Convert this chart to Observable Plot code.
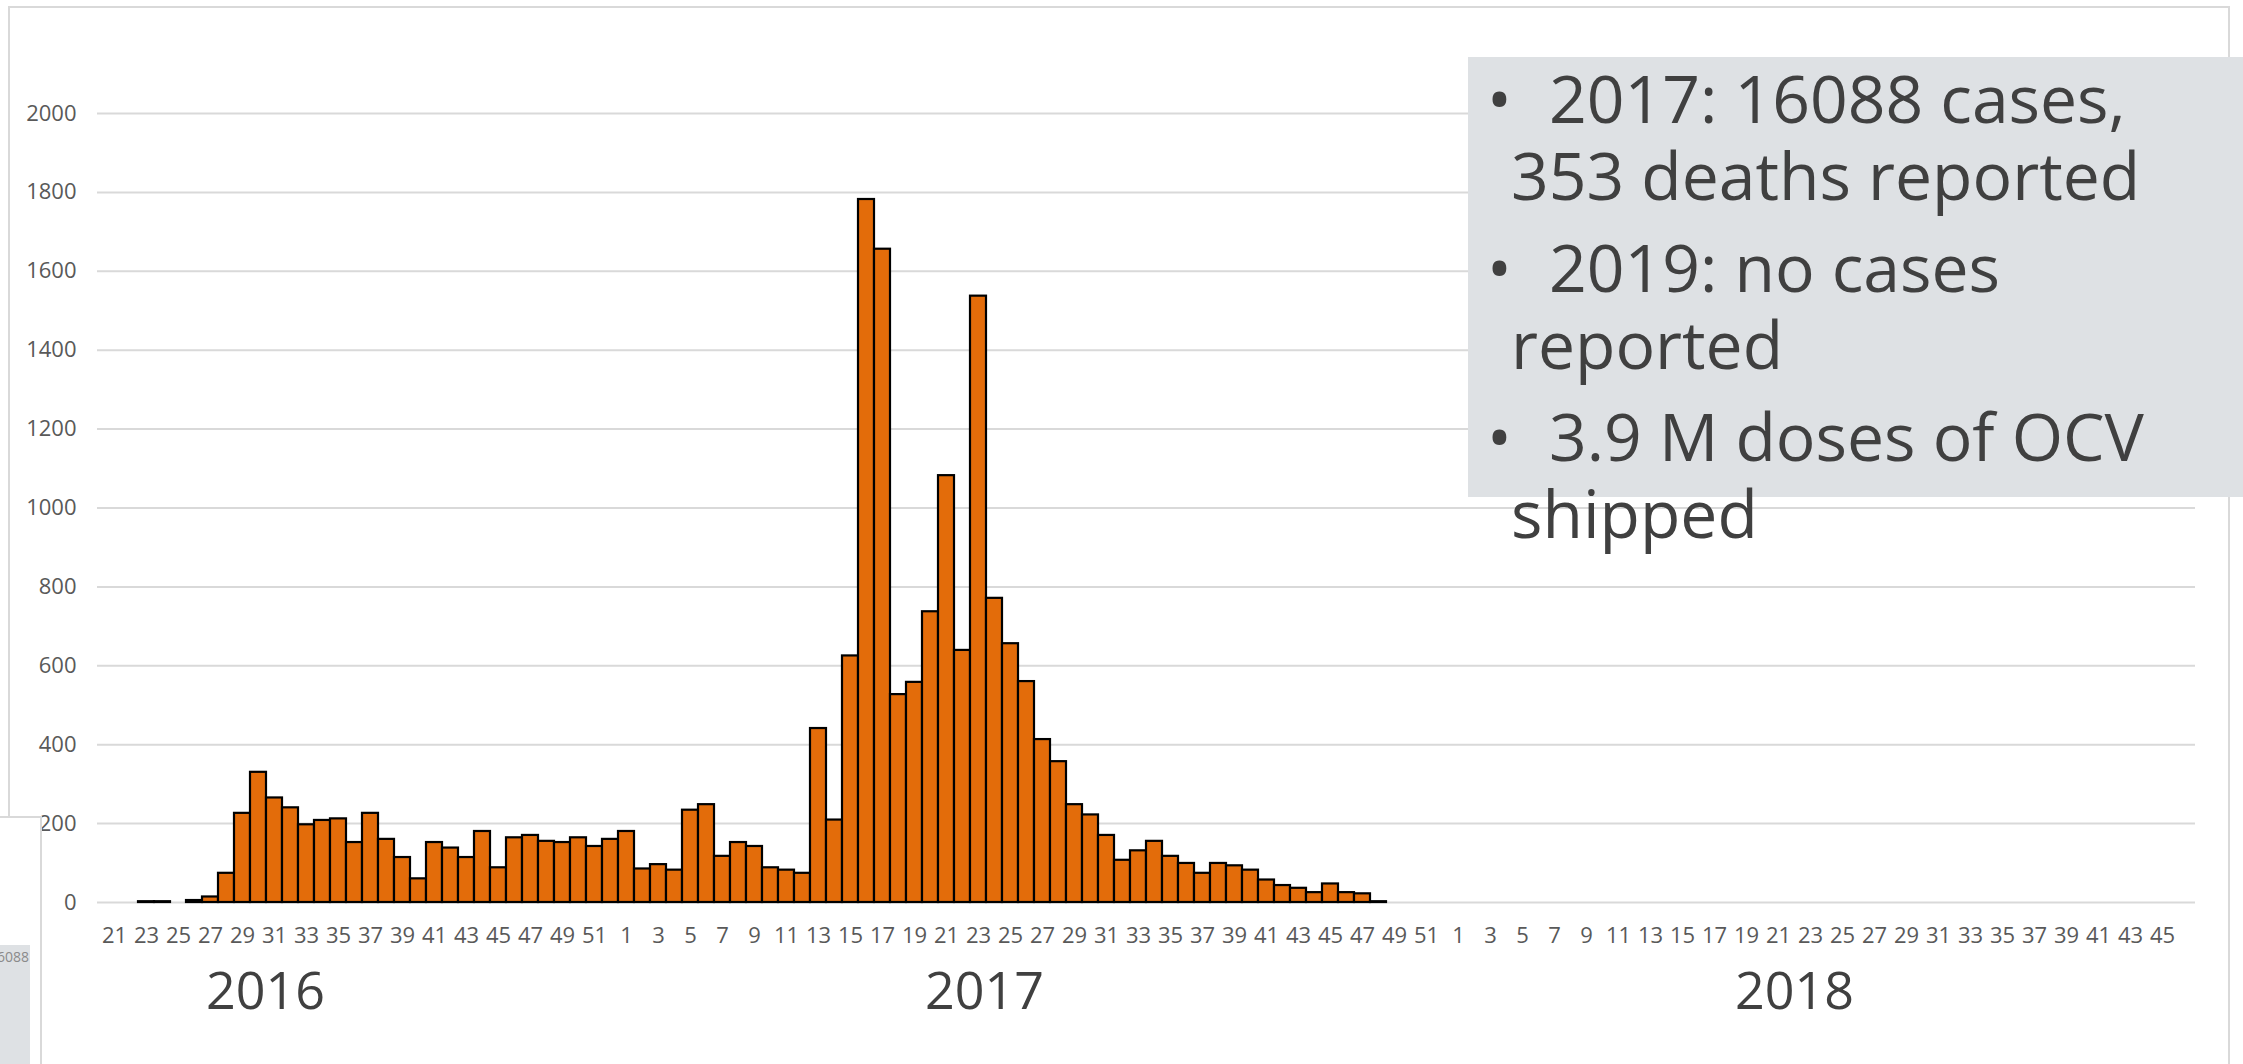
<!DOCTYPE html>
<html>
<head>
<meta charset="utf-8">
<script src="https://cdn.jsdelivr.net/npm/d3@7"></script>
<script src="https://cdn.jsdelivr.net/npm/@observablehq/plot@0.6"></script>
<style>
  html, body { margin: 0; padding: 0; background: #fff; }
  #wrap { position: relative; width: 2243px; height: 1064px; overflow: hidden; font-family: "Open Sans", sans-serif; }
  #chart { position: absolute; left: 0; top: 0; }
  .frame { position: absolute; left: 8px; top: 6px; width: 2222px; height: 1120px; border: 2px solid #d9d9d9; box-sizing: border-box; }
  .box { position: absolute; left: 1468px; top: 57px; width: 800px; height: 440px; background: #dee1e4; }
  .notes { position: absolute; left: 1511px; top: 59px; font-size: 66px; color: #404040; white-space: nowrap; line-height: 77px; }
  .notes p { margin: 0 0 15px 0; text-indent: -24px; }
  .notes .b { display: inline-block; width: 62px; text-indent: 0; }
  .inset { position: absolute; left: -2px; top: 816px; width: 44px; height: 300px; background: #fff; border: 2px solid #d9d9d9; box-sizing: border-box; }
  .inset .thumb { position: absolute; left: 0; top: 127px; width: 30px; height: 200px; background: #dee1e4; overflow: hidden; }
  .inset .thumb span { position: absolute; right: 1px; top: 2px; font-size: 14px; color: #8a8a8a; white-space: nowrap; }
</style>
</head>
<body>
<div id="wrap">
  <div class="frame"></div>
  <div id="chart"></div>
  <div class="inset"><div class="thumb"><span>16088</span></div></div>
  <div class="box"></div>
  <div class="notes">
    <p><span class="b">•</span>2017: 16088 cases,<br>353 deaths reported</p>
    <p><span class="b">•</span>2019: no cases<br>reported</p>
    <p><span class="b">•</span>3.9 M doses of OCV<br>shipped</p>
  </div>
</div>
<script>
// Epidemiological weeks shown on the axis
const weeks2016 = [21,22,23,24,25,26,27,28,29,30,31,32,33,34,35,36,37,38,39,40,41,42,43,44,45,46,47,48,49,50,51,52];
const weeks2017 = [1,2,3,4,5,6,7,8,9,10,11,12,13,14,15,16,17,18,19,20,21,22,23,24,25,26,27,28,29,30,31,32,33,34,35,36,37,38,39,40,41,42,43,44,45,46,47,48,49,50,51,52];
const weeks2018 = [1,2,3,4,5,6,7,8,9,10,11,12,13,14,15,16,17,18,19,20,21,22,23,24,25,26,27,28,29,30,31,32,33,34,35,36,37,38,39,40,41,42,43,44,45,46];

// Weekly cases
const cases2016 = [0,0,2,2,0,5,14,74,226,330,265,240,197,208,212,152,226,160,114,60,152,138,114,180,88,164,170,155,152,164,142,160];
const cases2017 = [180,85,96,82,234,248,117,152,142,88,82,74,441,209,625,1782,1656,527,558,737,1082,639,1537,771,656,560,413,357,248,222,170,107,131,155,117,99,74,99,93,82,57,43,36,25,47,25,22,2,0,0,0,0];
const cases2018 = [0,0,0,0,0,0,0,0,0,0,0,0,0,0,0,0,0,0,0,0,0,0,0,0,0,0,0,0,0,0,0,0,0,0,0,0,0,0,0,0,0,0,0,0,0,0];

const yTicks = [0,200,400,600,800,1000,1200,1400,1600,1800,2000];
const yearNames = ["2016", "2017", "2018"];
const yearLabelWeeks = ["2016-31", "2017-23", "2018-22"];
const yearLabelShift = [-9, 6, 0];

const rows = [];
[[2016, weeks2016, cases2016], [2017, weeks2017, cases2017], [2018, weeks2018, cases2018]].forEach(([yr, wks, cs]) => {
  wks.forEach((w, i) => rows.push({key: `${yr}-${w}`, year: yr, week: w, cases: cs[i]}));
});
const keys = rows.map(d => d.key);
const xTicks = keys.filter((k, i) => i % 2 === 0);

const yearMarks = yearNames.map((y, i) =>
  Plot.text([{year: y, key: yearLabelWeeks[i]}], {x: "key", text: "year", frameAnchor: "bottom", lineAnchor: "middle", dy: 90, dx: yearLabelShift[i], fontSize: 52, fill: "#404040"})
);

const chart = Plot.plot({
  width: 2243,
  height: 1064,
  marginLeft: 97,
  marginRight: 48,
  marginTop: 113,
  marginBottom: 162,
  style: {fontFamily: '"Open Sans", sans-serif', background: "transparent", overflow: "visible"},
  x: {type: "band", domain: keys, padding: 0, axis: null},
  y: {domain: [0, 2000], axis: null},
  marks: [
    Plot.ruleY(yTicks, {stroke: "#d9d9d9", strokeWidth: 2}),
    Plot.barY(rows.filter(d => d.cases > 0), {x: "key", y: "cases", fill: "#E36C0A", stroke: "#000", strokeWidth: 2.2, insetLeft: 0, insetRight: 0}),
    Plot.axisX({ticks: xTicks, tickFormat: k => k.split("-")[1], tickSize: 0, tickPadding: 25, fontSize: 22, fill: "#595959", label: null}),
    Plot.axisY({ticks: yTicks, tickFormat: d => String(d), tickSize: 0, tickPadding: 21, fontSize: 22, fill: "#595959", label: null}),
    ...yearMarks
  ]
});
document.getElementById("chart").appendChild(chart);
</script>
</body>
</html>
